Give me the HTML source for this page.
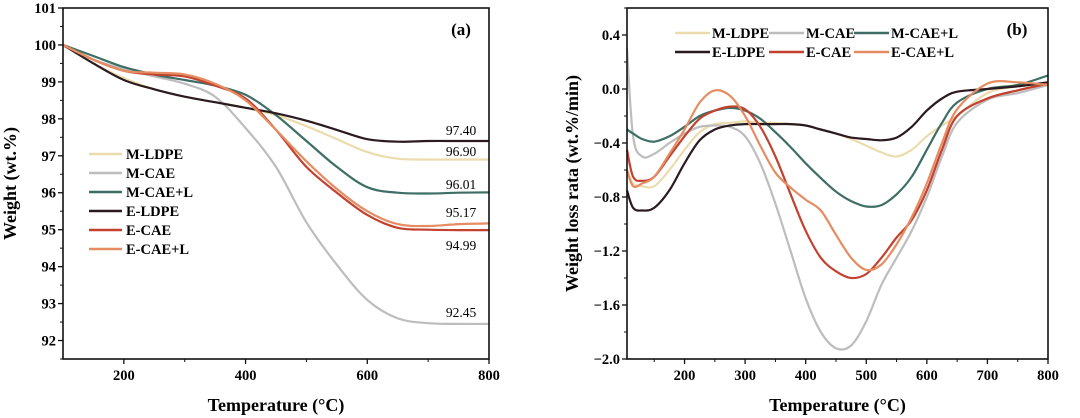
<!DOCTYPE html>
<html><head><meta charset="utf-8"><style>
html,body{margin:0;padding:0;background:#fff;}
svg{display:block;font-family:"Liberation Serif",serif;font-weight:bold;}
</style></head><body>
<svg id="fig" width="1080" height="418" viewBox="0 0 1080 418" xmlns="http://www.w3.org/2000/svg">
<g id="pa"></g>
<g id="pb"></g>
</svg>
<script>
const seriesNames = ["M-LDPE","M-CAE","M-CAE+L","E-LDPE","E-CAE","E-CAE+L"];
const seriesColors = ["#ebdcad","#bdbdbd","#3e6e64","#2b1b20","#c2412f","#e58c62"];
// Panel (a): weight
const tempA = [100,150,200,250,300,350,400,450,500,550,600,650,700,750,800];
const wMLDPE = [100,99.5,99.1,98.8,98.6,98.45,98.3,98.1,97.8,97.45,97.1,96.92,96.9,96.9,96.9];
const wMCAE = [100,99.6,99.35,99.15,98.95,98.6,97.75,96.7,95.2,94.05,93.1,92.6,92.47,92.45,92.45];
const wMCAEL = [100,99.7,99.4,99.2,99.05,98.9,98.65,98.1,97.4,96.7,96.15,96.0,95.98,96.0,96.01];
const wELDPE = [100,99.5,99.05,98.8,98.6,98.45,98.3,98.15,97.95,97.7,97.45,97.38,97.4,97.4,97.4];
const wECAE = [100,99.6,99.3,99.2,99.15,98.9,98.55,97.7,96.7,96.0,95.4,95.05,95.0,94.99,94.99];
const wECAEL = [100,99.6,99.3,99.25,99.2,98.95,98.5,97.7,96.85,96.1,95.5,95.15,95.1,95.15,95.17];
const endLabels = ["96.90","92.45","96.01","97.40","94.99","95.17"];
const xTicksA = [200,400,600,800];
const yTicksA = [92,93,94,95,96,97,98,99,100,101];
// Panel (b): rate
const tempB = [105,115,130,150,175,200,225,250,275,300,325,350,375,400,425,450,475,500,525,550,575,600,625,650,700,750,800];
const rMLDPE = [-0.6,-0.7,-0.72,-0.72,-0.6,-0.45,-0.32,-0.26,-0.25,-0.24,-0.25,-0.25,-0.26,-0.27,-0.3,-0.33,-0.37,-0.42,-0.47,-0.5,-0.45,-0.35,-0.27,-0.2,-0.03,0.02,0.04];
const rMCAE = [0.3,-0.35,-0.5,-0.48,-0.4,-0.33,-0.28,-0.27,-0.28,-0.35,-0.55,-0.85,-1.2,-1.55,-1.8,-1.92,-1.9,-1.72,-1.45,-1.25,-1.05,-0.8,-0.5,-0.25,-0.08,-0.03,0.03];
const rMCAEL = [-0.3,-0.33,-0.37,-0.39,-0.35,-0.28,-0.2,-0.16,-0.14,-0.16,-0.22,-0.32,-0.43,-0.55,-0.66,-0.76,-0.83,-0.87,-0.86,-0.78,-0.65,-0.45,-0.25,-0.1,0,0.03,0.1];
const rELDPE = [-0.75,-0.88,-0.9,-0.88,-0.75,-0.55,-0.38,-0.3,-0.27,-0.26,-0.26,-0.26,-0.26,-0.27,-0.3,-0.33,-0.36,-0.37,-0.38,-0.36,-0.28,-0.16,-0.07,-0.02,0,0.02,0.05];
const rECAE = [-0.45,-0.65,-0.68,-0.65,-0.5,-0.35,-0.22,-0.16,-0.13,-0.15,-0.28,-0.5,-0.78,-1.05,-1.25,-1.35,-1.4,-1.37,-1.25,-1.1,-0.97,-0.75,-0.45,-0.2,-0.07,-0.01,0.04];
const rECAEL = [-0.6,-0.72,-0.7,-0.65,-0.48,-0.3,-0.1,-0.01,-0.05,-0.2,-0.42,-0.62,-0.73,-0.82,-0.9,-1.08,-1.25,-1.34,-1.3,-1.15,-0.95,-0.7,-0.4,-0.15,0.04,0.05,0.03];
const xTicksB = [200,300,400,500,600,700,800];
const yTicksB = [-2.0,-1.6,-1.2,-0.8,-0.4,0.0,0.4];

const NS="http://www.w3.org/2000/svg";
function mk(parent,tag,attrs,text){const e=document.createElementNS(NS,tag);for(const k in attrs)e.setAttribute(k,attrs[k]);if(text!==undefined)e.textContent=text;parent.appendChild(e);return e;}
function smoothPath(pts){let d="M"+pts[0][0].toFixed(1)+","+pts[0][1].toFixed(1);
 for(let i=0;i<pts.length-1;i++){const p0=pts[Math.max(0,i-1)],p1=pts[i],p2=pts[i+1],p3=pts[Math.min(pts.length-1,i+2)];
 const c1=[p1[0]+(p2[0]-p0[0])/6,p1[1]+(p2[1]-p0[1])/6],c2=[p2[0]-(p3[0]-p1[0])/6,p2[1]-(p3[1]-p1[1])/6];
 d+=" C"+c1[0].toFixed(1)+","+c1[1].toFixed(1)+" "+c2[0].toFixed(1)+","+c2[1].toFixed(1)+" "+p2[0].toFixed(1)+","+p2[1].toFixed(1);}return d;}

function panel(g,cfg){
 const {L,R,T,B,x0,x1,y0,y1}=cfg;
 const sx=v=>L+(v-x0)/(x1-x0)*(R-L), sy=v=>B-(v-y0)/(y1-y0)*(B-T);
 cfg.series.forEach((arr,i)=>{
  const p=mk(g,"path",{d:smoothPath(cfg.xs.map((t,j)=>[sx(t),sy(arr[j])])),fill:"none",stroke:seriesColors[i],"stroke-width":2.2});
  
  
 });
 const fr=mk(g,"rect",{x:L,y:T,width:R-L,height:B-T,fill:"none",stroke:"#111","stroke-width":1.6});
 
 
 cfg.xt.forEach(v=>{mk(g,"line",{x1:sx(v),x2:sx(v),y1:B,y2:B+5,stroke:"#111","stroke-width":1.3});
  const t=mk(g,"text",{x:sx(v),y:B+21,"text-anchor":"middle","font-size":14.5},String(v));
  
  });
 cfg.xm.forEach(v=>mk(g,"line",{x1:sx(v),x2:sx(v),y1:B,y2:B+3,stroke:"#111","stroke-width":1}));
 cfg.yt.forEach(v=>{mk(g,"line",{x1:L-5,x2:L,y1:sy(v),y2:sy(v),stroke:"#111","stroke-width":1.3});
  const t=mk(g,"text",{x:L-7,y:sy(v)+5,"text-anchor":"end","font-size":14.5},cfg.fmt(v));
  
  });
 cfg.ym.forEach(v=>mk(g,"line",{x1:L-3,x2:L,y1:sy(v),y2:sy(v),stroke:"#111","stroke-width":1}));
 const xt=mk(g,"text",{x:(L+R)/2,y:411,"text-anchor":"middle","font-size":18},"Temperature (°C)");
 
 
 const yt=mk(g,"text",{x:0,y:0,"text-anchor":"middle","font-size":18,transform:`translate(${cfg.ytx},${(T+B)/2}) rotate(-90)`},cfg.ytitle);
 
 
 const pl=mk(g,"text",{x:cfg.plx,y:35,"text-anchor":"middle","font-size":17},cfg.pl);
 
 
 return {sx,sy};
}

const ga=document.getElementById('pa');
panel(ga,{L:63,R:489,T:8,B:359,x0:100,x1:800,y0:91.5,y1:101,xs:tempA,
 series:[wMLDPE,wMCAE,wMCAEL,wELDPE,wECAE,wECAEL],xt:xTicksA,xm:[300,500,700],yt:yTicksA,
 ym:yTicksA.map(v=>v-0.5),fmt:v=>String(v),ytx:16,ytitle:"Weight (wt.%)",plx:461,pl:"(a)"});
const labelY=[152,313,185,131,246,213];
endLabels.forEach((s,i)=>{const t=mk(ga,"text",{x:461,y:labelY[i]+4,"text-anchor":"middle","font-size":13.5,"font-weight":"normal"},s);
 
 });
seriesNames.forEach((n,i)=>{const y=154+i*19;
 const g=mk(ga,"g",{});
 
 
 mk(g,"line",{x1:89,x2:122,y1:y,y2:y,stroke:seriesColors[i],"stroke-width":2.5});
 mk(g,"text",{x:126,y:y+5,"font-size":14.5},n);});

const gb=document.getElementById('pb');
panel(gb,{L:627,R:1048,T:8,B:359,x0:105,x1:800,y0:-2.0,y1:0.6,xs:tempB,
 series:[rMLDPE,rMCAE,rMCAEL,rELDPE,rECAE,rECAEL],xt:xTicksB,xm:[150,250,350,450,550,650,750],yt:yTicksB,
 ym:yTicksB.map(v=>v+0.2),fmt:v=>v.toFixed(1).replace('-','−'),ytx:578,ytitle:"Weight loss rata (wt.%/min)",plx:1017,pl:"(b)"});
const lx=[675,769,854];
seriesNames.forEach((n,i)=>{const y=i<3?33:52,x=lx[i%3];
 const g=mk(gb,"g",{});
 
 
 mk(g,"line",{x1:x,x2:x+35,y1:y,y2:y,stroke:seriesColors[i],"stroke-width":2.5});
 mk(g,"text",{x:x+37,y:y+5,"font-size":14.5},n);});
</script>
</body></html>
